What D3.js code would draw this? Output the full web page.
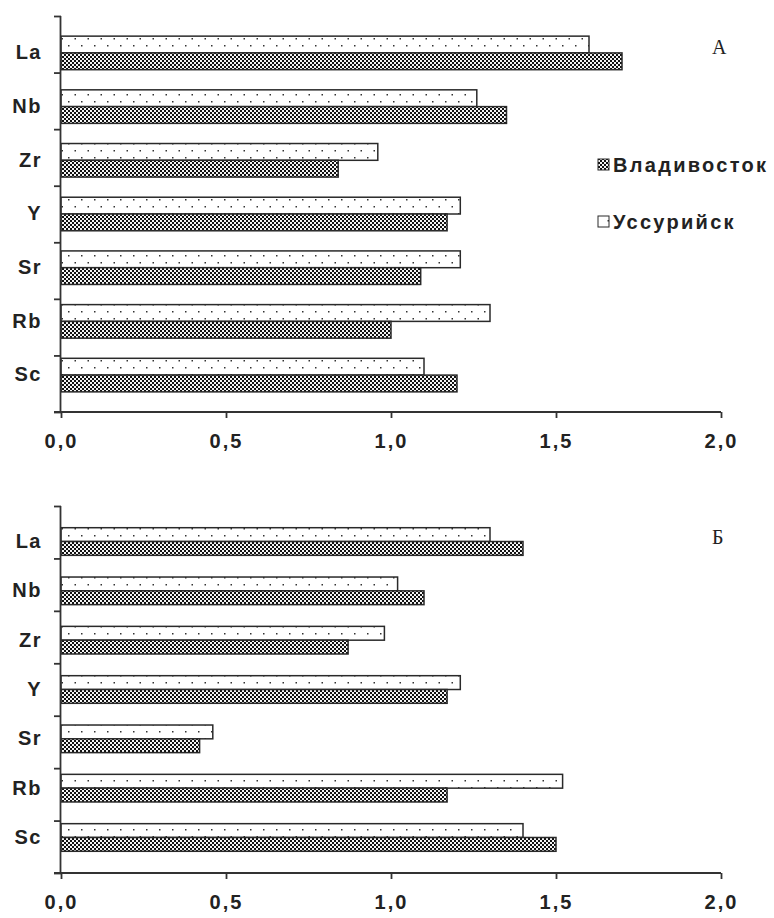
<!DOCTYPE html>
<html lang="ru">
<head>
<meta charset="UTF-8">
<title>La–Sc: Владивосток / Уссурийск</title>
<script src="https://d3js.org/d3.v7.min.js"></script>
<style>
  body { margin: 0; background: #fff; }
  svg { display: block; }
  .tick text { font-family: "Liberation Sans", Arial, sans-serif; font-weight: bold; fill: #222; }
</style>
</head>
<body>
<script>
// data
const elements = ["La", "Nb", "Zr", "Y", "Sr", "Rb", "Sc"];
const seriesNames = ["Уссурийск", "Владивосток"];
const ussuriyskA = [1.6, 1.26, 0.96, 1.21, 1.21, 1.3, 1.1];
const vladivostokA = [1.7, 1.35, 0.84, 1.17, 1.09, 1.0, 1.2];
const ussuriyskB = [1.3, 1.02, 0.98, 1.21, 0.46, 1.52, 1.4];
const vladivostokB = [1.4, 1.1, 0.87, 1.17, 0.42, 1.17, 1.5];
const xTicks = [0, 0.5, 1.0, 1.5, 2.0];
const panelLabels = ["А", "Б"];

const width = 774, height = 918;

const svg = d3.select("body").append("svg")
    .attr("width", width)
    .attr("height", height);

// fill patterns
const defs = svg.append("defs");
const checker = defs.append("pattern")
    .attr("id", "checker")
    .attr("patternUnits", "userSpaceOnUse")
    .attr("width", 4).attr("height", 4);
checker.append("rect").attr("width", 4).attr("height", 4).attr("fill", "#111");
checker.append("rect").attr("x", 0).attr("y", 0).attr("width", 2).attr("height", 2).attr("fill", "#f4f4f4");
checker.append("rect").attr("x", 2).attr("y", 2).attr("width", 2).attr("height", 2).attr("fill", "#f4f4f4");

const dots = defs.append("pattern")
    .attr("id", "dots")
    .attr("patternUnits", "userSpaceOnUse")
    .attr("width", 13).attr("height", 14);
dots.append("rect").attr("width", 13).attr("height", 14).attr("fill", "#fff");
dots.append("rect").attr("x", 3).attr("y", 3).attr("width", 1.5).attr("height", 1.5).attr("fill", "#333");
dots.append("rect").attr("x", 9.5).attr("y", 10).attr("width", 1.5).attr("height", 1.5).attr("fill", "#333");

const fills = { "Уссурийск": "url(#dots)", "Владивосток": "url(#checker)" };

const x = d3.scaleLinear().domain([0, 2]).range([61, 721]);
const fmt = d => d3.format(".1f")(d).replace(".", ",");

const panels = [
  { top: 16, bottom: 412, pad: 0.375, values: [ussuriyskA, vladivostokA] },
  { top: 506, bottom: 873, pad: 0.44, values: [ussuriyskB, vladivostokB] }
];

panels.forEach((p, pi) => {
  const g = svg.append("g");

  const y = d3.scaleBand().domain(elements).range([p.top, p.bottom]).padding(p.pad);
  const ySub = d3.scaleBand().domain(seriesNames).range([0, y.bandwidth()]);
  const yLin = d3.scaleLinear().domain([0, elements.length]).range([p.top, p.bottom]);

  // bars
  elements.forEach((el, i) => {
    seriesNames.forEach((s, si) => {
      g.append("rect")
        .attr("x", x(0))
        .attr("y", y(el) + ySub(s))
        .attr("width", x(p.values[si][i]) - x(0))
        .attr("height", ySub.bandwidth())
        .attr("fill", fills[s])
        .attr("stroke", "#2a2a2a")
        .attr("stroke-width", 1.5);
    });
  });

  // y axis: boundary ticks
  g.append("g")
    .attr("transform", `translate(${x(0)},0)`)
    .call(d3.axisLeft(yLin).tickValues(d3.range(elements.length + 1)).tickSize(7).tickFormat(""))
    .call(a => a.select(".domain").attr("d", `M-0.5,${p.top}V${p.bottom}`))
    .call(a => a.selectAll("line, .domain").attr("stroke", "#333").attr("stroke-width", 1.8));

  // category labels
  g.append("g")
    .attr("transform", `translate(42,0)`)
    .call(d3.axisLeft(y).tickSize(0).tickPadding(0))
    .call(a => a.select(".domain").remove())
    .call(a => a.selectAll("text").attr("font-size", 20).attr("letter-spacing", 1.5));

  // x axis
  g.append("g")
    .attr("transform", `translate(0,${p.bottom})`)
    .call(d3.axisBottom(x).tickValues(xTicks).tickSize(6).tickPadding(16).tickFormat(fmt))
    .call(a => a.select(".domain").attr("d", `M${x(0) - 7},0H${x(2)}`))
    .call(a => a.selectAll("line, .domain").attr("stroke", "#333").attr("stroke-width", 1.8))
    .call(a => a.selectAll("text").attr("font-size", 20).attr("letter-spacing", 2));

  // panel letter
  g.append("text")
    .attr("x", 712).attr("y", p.top + 38)
    .attr("font-family", "'Liberation Serif', 'Times New Roman', serif")
    .attr("font-size", 20)
    .attr("fill", "#222")
    .text(panelLabels[pi]);
});

// legend
const legend = svg.append("g").attr("transform", "translate(598,0)");
const legendItems = [
  { name: "Владивосток", y: 165 },
  { name: "Уссурийск", y: 222 }
];
legendItems.forEach(d => {
  legend.append("rect")
    .attr("x", 0).attr("y", d.y - 6)
    .attr("width", 11).attr("height", 11)
    .attr("fill", fills[d.name])
    .attr("stroke", "#2a2a2a").attr("stroke-width", 1);
  legend.append("text")
    .attr("x", 15).attr("y", d.y + 7)
    .attr("font-family", "'Liberation Sans', Arial, sans-serif")
    .attr("font-weight", "bold")
    .attr("font-size", 20)
    .attr("letter-spacing", 2.3)
    .attr("fill", "#222")
    .text(d.name);
});
</script>
</body>
</html>
